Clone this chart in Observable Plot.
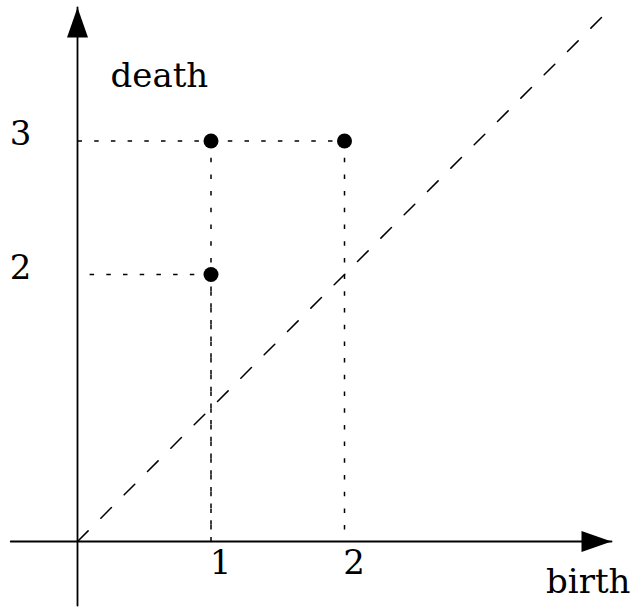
<!DOCTYPE html>
<html>
<head>
<meta charset="utf-8">
<script src="https://cdn.jsdelivr.net/npm/d3@7"></script>
<script src="https://cdn.jsdelivr.net/npm/@observablehq/plot@0.6"></script>
<style>
  html, body { margin: 0; padding: 0; background: #fff; }
  #chart svg { display: block; background: #fff; }
</style>
</head>
<body>
<div id="chart"></div>
<script>
// persistence diagram points (birth, death)
const births = [1, 1, 2];
const deaths = [2, 3, 3];
// tick labels
const xTicks = [1, 2];
const yTicks = [2, 3];
// axis extents (start, arrow tip) and diagonal extent
const xAxisExtent = [-0.5, 4];
const yAxisExtent = [-0.48, 4];
const diagonalExtent = [0, 3.97];
const xTitle = "birth";
const yTitle = "death";

const points = births.map((b, i) => ({birth: b, death: deaths[i]}));

// horizontal guides: one per death value; a shared row runs from the axis to the farthest point
const hGuides = Array.from(d3.group(points, d => d.death), ([death, pts]) =>
  pts.length > 1
    ? {x1: 0, x2: d3.max(pts, p => p.birth), y: death}
    : {x1: pts[0].birth, x2: 0, y: death});
// vertical guides: topmost point of a column runs down; others run up from the axis
const vGuides = points.map(p => {
  const top = d3.max(points.filter(q => q.birth === p.birth), q => q.death);
  return p.death === top
    ? {x: p.birth, y1: p.death, y2: 0}
    : {x: p.birth, y1: 0, y2: p.death};
});

const arrowUp = {draw(ctx) { ctx.moveTo(0, 0); ctx.lineTo(-10.5, 30); ctx.lineTo(10.5, 30); ctx.closePath(); }};
const arrowRight = {draw(ctx) { ctx.moveTo(0, 0); ctx.lineTo(-30, -10.5); ctx.lineTo(-30, 10.5); ctx.closePath(); }};

const font = "DejaVu Serif";
const fs = 34;
const dotted = {stroke: "black", strokeWidth: 1.5, strokeDasharray: "4.5,12.2"};

const chart = Plot.plot({
  width: 631,
  height: 609,
  margin: 0,
  x: {domain: [-77 / 133.5, (631 - 77) / 133.5], range: [0, 631], axis: null},
  y: {domain: [-(609 - 541) / 133.5, 541 / 133.5], range: [609, 0], axis: null},
  marks: [
    Plot.link(hGuides, {x1: "x1", x2: "x2", y1: "y", y2: "y", ...dotted}),
    Plot.link(vGuides, {x1: "x", x2: "x", y1: "y1", y2: "y2", ...dotted}),
    // diagonal
    Plot.line(diagonalExtent.map(v => ({x: v, y: v})), {x: "x", y: "y",
      stroke: "black", strokeWidth: 1.5, strokeDasharray: "15,18"}),
    // axes
    Plot.line(xAxisExtent.map(v => ({x: v, y: 0})), {x: "x", y: "y", stroke: "black", strokeWidth: 1.8}),
    Plot.line(yAxisExtent.map(v => ({x: 0, y: v})), {x: "x", y: "y", stroke: "black", strokeWidth: 1.8}),
    Plot.dot([{x: xAxisExtent[1], y: 0}], {x: "x", y: "y", symbol: arrowRight, fill: "black", stroke: "none"}),
    Plot.dot([{x: 0, y: yAxisExtent[1]}], {x: "x", y: "y", symbol: arrowUp, fill: "black", stroke: "none"}),
    // points
    Plot.dot(points, {x: "birth", y: "death", r: 7.5, fill: "black", stroke: "none"}),
    // tick labels
    Plot.text(xTicks, {x: d => d, y: () => 0, text: d => String(d), dx: 9.5, dy: 21.5,
      fontFamily: font, fontSize: fs, fill: "black"}),
    Plot.text(yTicks, {x: () => 0, y: d => d, text: d => String(d), dx: -57, dy: -6.5,
      fontFamily: font, fontSize: fs, fill: "black"}),
    // axis titles
    Plot.text([yTitle], {frameAnchor: "top-left", text: d => d, textAnchor: "start", dx: 110, dy: 62,
      fontFamily: font, fontSize: fs, fill: "black"}),
    Plot.text([xTitle], {frameAnchor: "bottom-right", text: d => d, textAnchor: "end", dx: -1, dy: -17,
      fontFamily: font, fontSize: fs, fill: "black"})
  ]
});
document.getElementById("chart").appendChild(chart);
</script>
</body>
</html>
